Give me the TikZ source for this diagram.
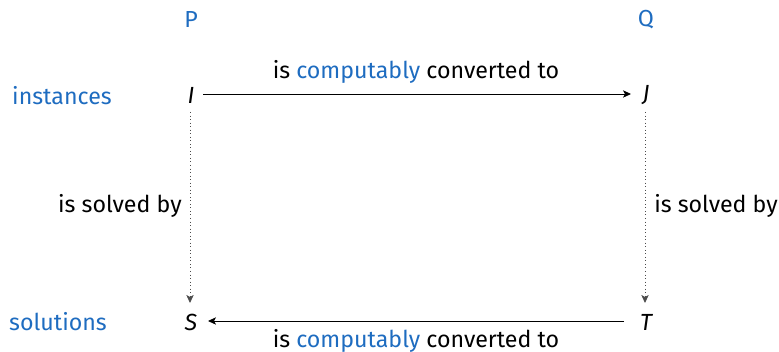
\documentclass[tikz,border=0pt]{standalone}
\usepackage{fontspec}
\setmainfont{Fira Sans}
\usetikzlibrary{arrows.meta}
\definecolor{qblue}{HTML}{1E6CC0}
\begin{document}
\begin{tikzpicture}[x=0.75pt,y=-0.75pt,
  lbl/.style={font=\fontsize{17.4}{20}\selectfont, inner sep=0pt},
  var/.style={font=\fontsize{17.5}{20}\selectfont\itshape, inner sep=2pt},
  hd/.style={lbl, text=qblue},
  conv/.style={-{Stealth[length=6pt,width=5.5pt,inset=1.5pt]}, line width=0.65pt},
  solve/.style={-{Stealth[length=6pt,width=5.5pt,inset=1.5pt]}, line width=0.65pt, dotted, draw=black!70}]
\useasboundingbox (0,0) rectangle (779,352);
\node[hd] (P) at (191,20) {P};
\node[hd] (Q) at (646,20) {Q};
\node[hd] (inst) at (62,96) {instances};
\node[hd] (sol) at (58,322) {solutions};
\node[var] (I) at (191,95) {I};
\node[var] (J) at (646,95) {J};
\node[var] (S) at (191,322) {S};
\node[var] (T) at (646,322) {T};
\coordinate (I1) at (203,94);
\coordinate (J1) at (631,94);
\coordinate (T1) at (624,321);
\coordinate (S1) at (208,321);
\draw[conv] (I1) -- (J1);
\draw[conv] (T1) -- (S1);
\draw[solve] (190,112) -- (190,303);
\draw[solve] (645,112) -- (645,303);
\node[lbl] (top) at (416,72) {is \textcolor{qblue}{computably} converted to};
\node[lbl] (bot) at (416,341) {is \textcolor{qblue}{computably} converted to};
\node[lbl, anchor=east] (ls) at (182,206) {is solved by};
\node[lbl, anchor=west] (rs) at (654,206) {is solved by};
\end{tikzpicture}
\end{document}
